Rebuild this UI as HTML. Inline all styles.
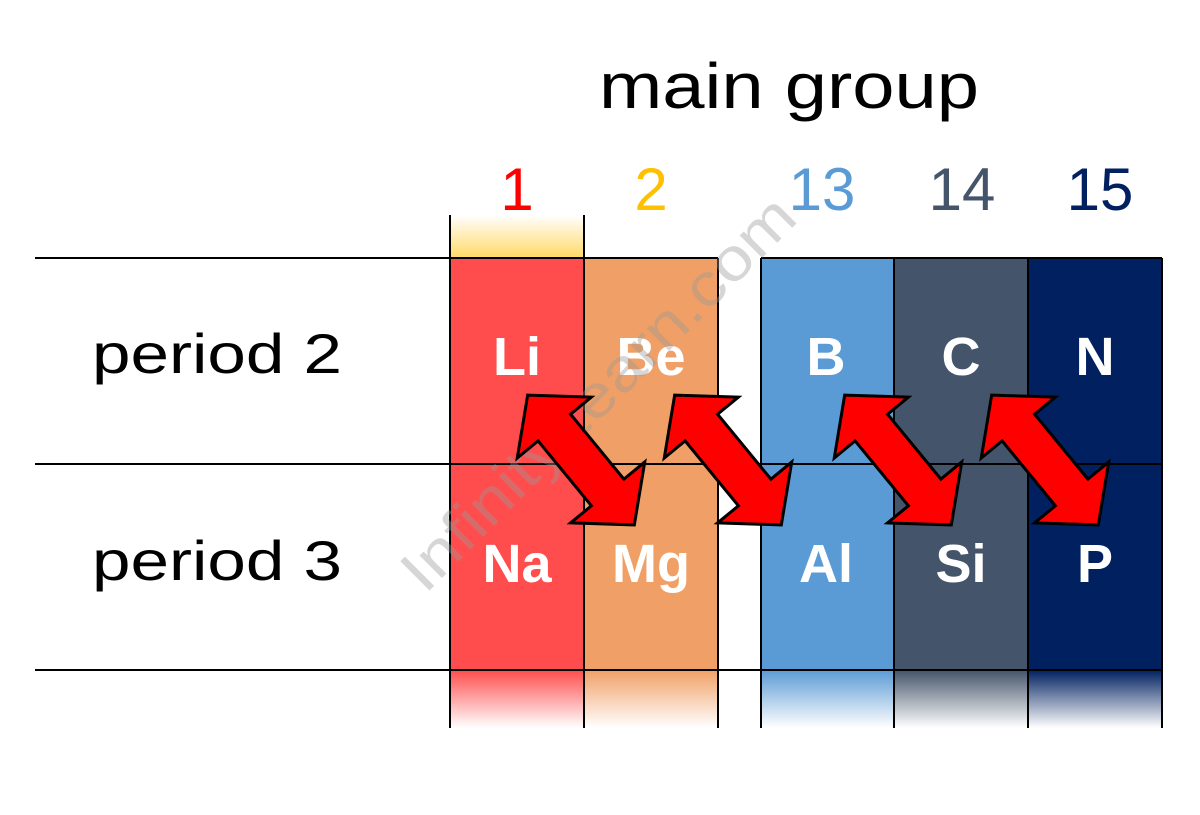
<!DOCTYPE html>
<html><head><style>body{margin:0;background:#fff}</style></head><body>
<svg width="1200" height="810" xmlns="http://www.w3.org/2000/svg" font-family="Liberation Sans, DejaVu Sans, sans-serif">
<defs>
<linearGradient id="gy" x1="0" y1="0" x2="0" y2="1"><stop offset="0" stop-color="#ffd966" stop-opacity="0"/><stop offset="1" stop-color="#ffd966"/></linearGradient>
<linearGradient id="g1" x1="0" y1="0" x2="0" y2="1"><stop offset="0" stop-color="#ff4d4d"/><stop offset="1" stop-color="#ff4d4d" stop-opacity="0"/></linearGradient>
<linearGradient id="g2" x1="0" y1="0" x2="0" y2="1"><stop offset="0" stop-color="#f0a066"/><stop offset="1" stop-color="#f0a066" stop-opacity="0"/></linearGradient>
<linearGradient id="g3" x1="0" y1="0" x2="0" y2="1"><stop offset="0" stop-color="#5b9bd5"/><stop offset="1" stop-color="#5b9bd5" stop-opacity="0"/></linearGradient>
<linearGradient id="g4" x1="0" y1="0" x2="0" y2="1"><stop offset="0" stop-color="#44546a"/><stop offset="1" stop-color="#44546a" stop-opacity="0"/></linearGradient>
<linearGradient id="g5" x1="0" y1="0" x2="0" y2="1"><stop offset="0" stop-color="#002060"/><stop offset="1" stop-color="#002060" stop-opacity="0"/></linearGradient>
</defs>
<text x="599" y="108" font-size="64" textLength="380" lengthAdjust="spacingAndGlyphs" fill="#000">main group</text>
<g font-size="60" text-anchor="middle">
<text x="517" y="210" fill="#ff0000">1</text>
<text x="651" y="210" fill="#ffc000">2</text>
<text x="822" y="210" fill="#5b9bd5">13</text>
<text x="962" y="210" fill="#44546a">14</text>
<text x="1100" y="210" fill="#002060">15</text>
</g>
<rect x="450" y="215" width="134" height="43" fill="url(#gy)"/>
<line x1="450" y1="215" x2="450" y2="258" stroke="#000" stroke-width="2"/>
<line x1="584" y1="215" x2="584" y2="258" stroke="#000" stroke-width="2"/>
<rect x="450" y="258" width="134" height="412" fill="#ff4d4d"/>
<rect x="584" y="258" width="134" height="412" fill="#f0a066"/>
<rect x="761" y="258" width="133" height="412" fill="#5b9bd5"/>
<rect x="894" y="258" width="134" height="412" fill="#44546a"/>
<rect x="1028" y="258" width="134" height="412" fill="#002060"/>
<rect x="450" y="670" width="134" height="58" fill="url(#g1)"/>
<rect x="584" y="670" width="134" height="58" fill="url(#g2)"/>
<rect x="761" y="670" width="133" height="58" fill="url(#g3)"/>
<rect x="894" y="670" width="134" height="58" fill="url(#g4)"/>
<rect x="1028" y="670" width="134" height="58" fill="url(#g5)"/>
<g stroke="#000" stroke-width="2">
<line x1="35" y1="258" x2="718" y2="258"/><line x1="761" y1="258" x2="1162" y2="258"/>
<line x1="35" y1="464" x2="1162" y2="464"/>
<line x1="35" y1="670" x2="1162" y2="670"/>
<line x1="450" y1="258" x2="450" y2="728"/><line x1="584" y1="258" x2="584" y2="728"/><line x1="718" y1="258" x2="718" y2="728"/>
<line x1="761" y1="258" x2="761" y2="728"/><line x1="894" y1="258" x2="894" y2="728"/><line x1="1028" y1="258" x2="1028" y2="728"/><line x1="1162" y1="258" x2="1162" y2="728"/>
</g>
<g font-size="56" fill="#000">
<text x="92" y="373" textLength="250" lengthAdjust="spacingAndGlyphs">period 2</text>
<text x="92" y="580" textLength="250" lengthAdjust="spacingAndGlyphs">period 3</text>
</g>
<g font-size="54" font-weight="bold" fill="#fff" text-anchor="middle">
<text x="517" y="375">Li</text><text x="651" y="375">Be</text><text x="826" y="375">B</text><text x="961" y="375">C</text><text x="1095" y="375">N</text>
<text x="517" y="582">Na</text><text x="651" y="582">Mg</text><text x="826" y="582">Al</text><text x="961" y="582">Si</text><text x="1095" y="582">P</text>
</g>
<text x="0" y="0" font-size="60" fill="#999" fill-opacity="0.4" textLength="530" lengthAdjust="spacingAndGlyphs" transform="translate(425,595) rotate(-45)">InfinityLearn.com</text>
<g fill="#ff0000" stroke="#000" stroke-width="3" stroke-linejoin="miter">
<polygon points="-84,0 -42,-48 -42,-21 42,-21 42,-48 84,0 42,48 42,21 -42,21 -42,48" transform="translate(581,460) rotate(50.6)"/>
<polygon points="-84,0 -42,-48 -42,-21 42,-21 42,-48 84,0 42,48 42,21 -42,21 -42,48" transform="translate(728,460) rotate(50.6)"/>
<polygon points="-84,0 -42,-48 -42,-21 42,-21 42,-48 84,0 42,48 42,21 -42,21 -42,48" transform="translate(898,460) rotate(50.6)"/>
<polygon points="-84,0 -42,-48 -42,-21 42,-21 42,-48 84,0 42,48 42,21 -42,21 -42,48" transform="translate(1045,460) rotate(50.6)"/>
</g>
</svg>
</body></html>
